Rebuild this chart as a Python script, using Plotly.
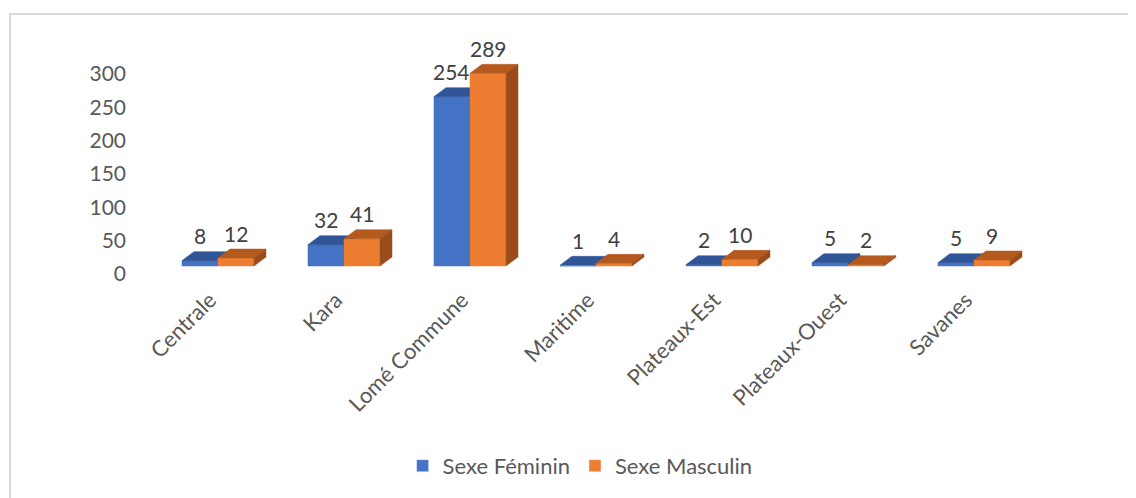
import plotly.graph_objects as go

regions = ["Centrale", "Kara", "Lomé Commune", "Maritime", "Plateaux-Est", "Plateaux-Ouest", "Savanes"]
feminin = [8, 32, 254, 1, 2, 5, 5]
masculin = [12, 41, 289, 4, 10, 2, 9]
series_names = ["Sexe Féminin", "Sexe Masculin"]
y_ticks = [0, 50, 100, 150, 200, 250, 300]

### colours: front, top, side
blue = ["#4472C4", "#2F5597", "#2A4A86"]
orange = ["#ED7D31", "#B55A1F", "#9A4C1A"]

W = 0.286    ### width of one bar (category units)
DX = 0.095   ### depth offset in x
DY = 13.5    ### depth offset in y (data units)

fig = go.Figure()


def add_bar(xc, v, cols):  ### front, top and side faces of one 3d bar
    x0, x1 = xc - W / 2, xc + W / 2
    faces = [
        ([x0, x1, x1, x0, x0], [0, 0, v, v, 0], cols[0]),
        ([x0, x1, x1 + DX, x0 + DX, x0], [v, v, v + DY, v + DY, v], cols[1]),
        ([x1, x1 + DX, x1 + DX, x1, x1], [0, DY, v + DY, v, 0], cols[2]),
    ]
    for xs, ys, c in faces:
        fig.add_trace(go.Scatter(x=xs, y=ys, fill="toself", fillcolor=c, mode="lines",
                                 line=dict(color=c, width=0.5), showlegend=False,
                                 hoverinfo="skip", yaxis="y2"))


annotations = []
for i in range(len(regions)):
    for vals, cols, off in [(feminin, blue, -W / 2), (masculin, orange, W / 2)]:
        add_bar(i + off, vals[i], cols)
        annotations.append(dict(x=i + off, y=vals[i], xref="x", yref="y2", text=str(vals[i]),
                                showarrow=False, yanchor="middle", yshift=25,
                                font=dict(family="Lato", size=21, color="#404040")))

### legend entries only
for name, cols in zip(series_names, [blue, orange]):
    fig.add_trace(go.Bar(x=[None], y=[None], name=name, marker_color=cols[0]))

fig.update_layout(
    width=1136, height=498,
    margin=dict(l=147, r=107, t=32, b=224),
    paper_bgcolor="white", plot_bgcolor="white",
    font=dict(family="Lato", size=21, color="#595959"),
    xaxis=dict(range=[-0.5, 6.5], tickvals=list(range(len(regions))), ticktext=regions,
               tickangle=-45, showgrid=False, zeroline=False, showline=False,
               tickfont=dict(size=22), ticklabelshift=-8),
    yaxis=dict(range=[-12, 351], tickvals=y_ticks, showgrid=False, zeroline=False,
               showline=False, ticklen=0, ticklabelstandoff=28),
    yaxis2=dict(range=[-24, 339], overlaying="y", visible=False),
    annotations=annotations,
    legend=dict(orientation="h", x=0.482, xanchor="center", y=-0.76, yanchor="middle",
                font=dict(size=22, color="#595959")),
    shapes=[dict(type="rect", xref="paper", yref="paper", x0=-0.1644, x1=1.3, y0=-1.2, y1=1.107,
                 line=dict(color="#D9D9D9", width=2), layer="below")],
)

fig.write_html("out.html")
